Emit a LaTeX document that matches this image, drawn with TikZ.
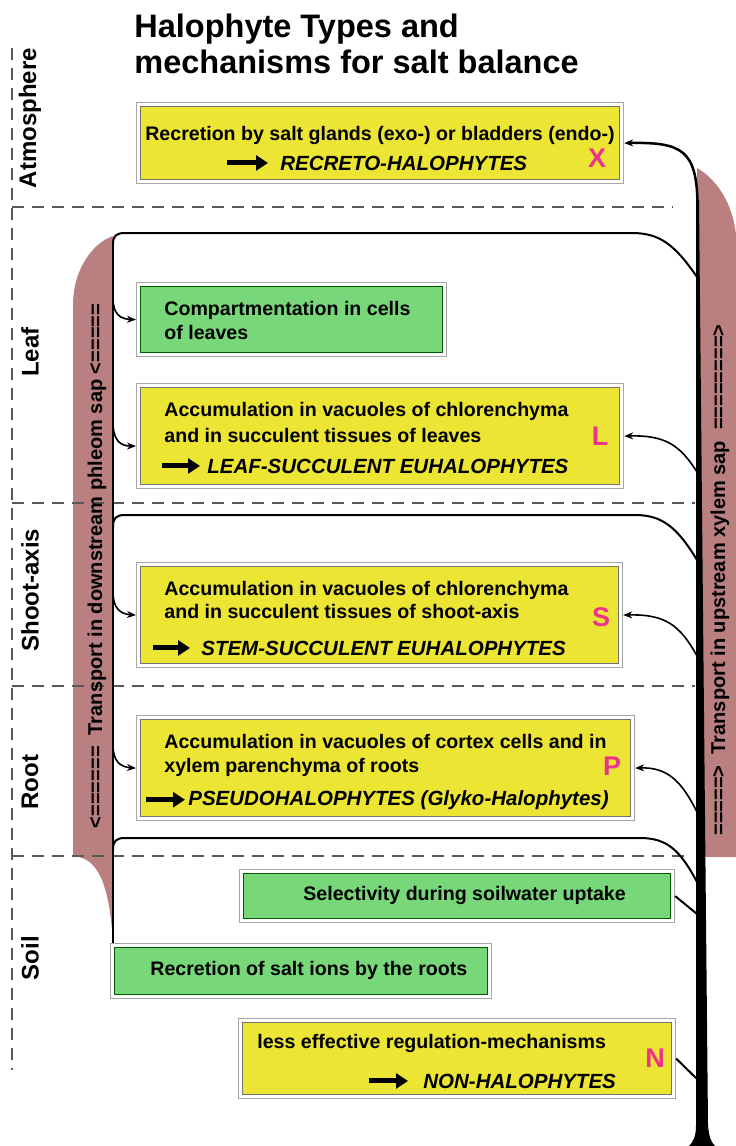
\documentclass[tikz,border=0pt]{standalone}
\usepackage{fontspec}
\setmainfont{Liberation Sans}
\usetikzlibrary{arrows.meta,positioning,calc}

\definecolor{boxyellow}{RGB}{236,229,52}
\definecolor{boxgreen}{RGB}{120,215,120}
\definecolor{sapbrown}{RGB}{186,127,127}
\definecolor{typepink}{RGB}{236,50,140}

\newcommand\bodyfont{\fontsize{19.6}{24}\selectfont\bfseries}
\newcommand\italfont{\fontsize{20.5}{24}\selectfont\bfseries\itshape}

\tikzset{every picture/.style={line width=0.75pt}}
\tikzset{
  boxbase/.style={rectangle, draw=black!35, line width=1.2pt, fill=white, inner sep=0pt, anchor=north west},
  ybox/.style={boxbase, path picture={\draw[fill=boxyellow, draw=black!55, line width=0.8pt]
      ([xshift=4pt,yshift=-4pt]path picture bounding box.north west) rectangle
      ([xshift=-4pt,yshift=4pt]path picture bounding box.south east);}},
  gbox/.style={boxbase, path picture={\draw[fill=boxgreen, draw=green!35!black, line width=1pt]
      ([xshift=4pt,yshift=-4pt]path picture bounding box.north west) rectangle
      ([xshift=-4pt,yshift=4pt]path picture bounding box.south east);}},
  title/.style={font=\fontsize{32.5}{38}\selectfont\bfseries, anchor=base west, inner sep=0pt},
  txt/.style={font=\bodyfont, anchor=base west, inner sep=0pt},
  itxt/.style={font=\italfont, anchor=base west, inner sep=0pt},
  typeletter/.style={font=\fontsize{27}{27}\selectfont\bfseries, text=typepink, anchor=base, inner sep=0pt},
  zone/.style={font=\fontsize{24}{25}\selectfont\bfseries, rotate=90, inner sep=0pt},
  saplabel/.style={font=\fontsize{20}{22}\selectfont\bfseries, rotate=90, inner sep=0pt},
  zoneline/.style={dash pattern=on 12pt off 8pt, draw=black!65, line width=1.3pt},
  sapline/.style={line width=2pt},
  twig/.style={line width=1.6pt, -{Stealth[length=9pt,width=7pt]}},
  fatarrow/.style={line width=5pt, -{Triangle[length=12pt,width=15pt]}},
}

\begin{document}
\begin{tikzpicture}[x=1pt, y=-1pt]
  \useasboundingbox (0,0) rectangle (736,1146);

  % sap bands
  \fill[sapbrown] (113,236) .. controls (95,242) and (74,266) .. (73,303) -- (73,856)
    .. controls (97,858) and (109,880) .. (113,943) -- cycle;
  \fill[sapbrown] (697,168) .. controls (718,180) and (733,205) .. (736,235) -- (736,857) -- (697,857) -- cycle;

  % zone borders
  \draw[zoneline] (12,48) -- (12,1070);
  \foreach \y/\xe in {207/673, 503/695, 686/695, 856/690}
    \draw[zoneline] (12,\y) -- (\xe,\y);

  % title
  \node[title] (title1) at (134,37) {Halophyte Types and};
  \node[title] (title2) at (134,73) {mechanisms for salt balance};

  % zones
  \node[zone] (atmo) at (30,118) {Atmosphere};
  \node[zone] (leaf) at (30,352) {Leaf};
  \node[zone] (shoot) at (30,590) {Shoot-axis};
  \node[zone] (root) at (30,782) {Root};
  \node[zone] (soil) at (30,958) {Soil};

  % sap labels
  \node[saplabel] (phloem) at (97,566) {<======\ \ Transport in downstream phleom sap <=====};
  \node[saplabel] (xylem) at (720,580) {=====>\ \ Transport in upstream xylem sap\ \ ========>};

  % boxes
  \node[ybox, minimum width=487pt, minimum height=81pt] (xbox) at (136,102) {};
  \node[gbox, minimum width=310pt, minimum height=74pt] (cbox) at (136,282) {};
  \node[ybox, minimum width=487pt, minimum height=105pt] (lbox) at (136,383) {};
  \node[ybox, minimum width=486pt, minimum height=105pt] (sbox) at (136,562) {};
  \node[ybox, minimum width=498pt, minimum height=105pt] (pbox) at (136,715) {};
  \node[gbox, minimum width=435pt, minimum height=53pt] (selbox) at (239,869) {};
  \node[gbox, minimum width=381pt, minimum height=55pt] (recbox) at (110,943) {};
  \node[ybox, minimum width=437pt, minimum height=80pt] (nbox) at (238,1018) {};

  % box texts
  \node[txt, anchor=base] (x1) at (380,140) {Recretion by salt glands (exo-) or bladders (endo-)};
  \node[itxt] (x2) at (280,170) {RECRETO-HALOPHYTES};
  \node[typeletter] (xlet) at (597,167) {X};

  \node[txt] (c1) at (164,315) {Compartmentation in cells};
  \node[txt] (c2) at (164,339) {of leaves};

  \node[txt] (l1) at (164,416) {Accumulation in vacuoles of chlorenchyma};
  \node[txt] (l2) at (164,442) {and in succulent tissues of leaves};
  \node[itxt] (l3) at (207,473) {LEAF-SUCCULENT EUHALOPHYTES};
  \node[typeletter] (llet) at (600,445) {L};

  \node[txt] (s1) at (164,595) {Accumulation in vacuoles of chlorenchyma};
  \node[txt] (s2) at (164,618) {and in succulent tissues of shoot-axis};
  \node[itxt] (s3) at (201,655) {STEM-SUCCULENT EUHALOPHYTES};
  \node[typeletter] (slet) at (601,626) {S};

  \node[txt] (p1) at (164,748) {Accumulation in vacuoles of cortex cells and in};
  \node[txt] (p2) at (164,772) {xylem parenchyma of roots};
  \node[itxt] (p3) at (188,805) {PSEUDOHALOPHYTES (Glyko-Halophytes)};
  \node[typeletter] (plet) at (612,775) {P};

  \node[txt] (sel) at (303,900) {Selectivity during soilwater uptake};
  \node[txt] (rec) at (150,975) {Recretion of salt ions by the roots};

  \node[txt] (n1) at (257,1048) {less effective regulation-mechanisms};
  \node[itxt] (n2) at (423,1088) {NON-HALOPHYTES};
  \node[typeletter] (nlet) at (655,1067) {N};

  % fat arrows
  \coordinate (xa) at (227,0 |- x2.west);
  \coordinate (la) at (162,0 |- l3.west);
  \coordinate (sa) at (153,0 |- s3.west);
  \coordinate (pa) at (146,0 |- p3.west);
  \coordinate (na) at (369,0 |- n2.west);
  \draw[fatarrow, shorten >=12pt] (xa) -- (x2.west);
  \draw[fatarrow, shorten >=7pt] (la) -- (l3.west);
  \draw[fatarrow, shorten >=11pt] (sa) -- (s3.west);
  \draw[fatarrow, shorten >=3pt] (pa) -- (p3.west);
  \draw[fatarrow, shorten >=15pt] (na) -- (n2.west);

  % xylem trunk
  \fill (696,200) -- (699,200) -- (708,1125) .. controls (709,1137) and (711,1142) .. (715,1146)
    -- (689,1146) .. controls (693,1142) and (696,1137) .. (696,1125) -- cycle;
  \coordinate (xylTop) at (697.5,205);
  \draw[twig, line width=2.5pt] (xylTop) .. controls (697,150) and (682,142) .. (xbox.east);

  % phloem line and loops
  \coordinate (phTop) at (113,244);
  \coordinate (phShoot) at (113,527);
  \coordinate (phSoil) at (113,850);
  \coordinate (xylLeaf) at (697,277);
  \coordinate (xylShoot) at (697,560);
  \coordinate (xylSoil) at (697,882);
  \draw[sapline, line width=2.2pt] (phTop) -- (phTop |- recbox.north);
  \draw[sapline] (xylLeaf) .. controls (675,245) and (660,233) .. (632,233) -- (125,233)
    .. controls (116,233) and (113,236) .. (phTop);
  \draw[sapline] (xylShoot) .. controls (677,527) and (662,515) .. (635,515) -- (125,515)
    .. controls (116,515) and (113,518) .. (phShoot);
  \draw[sapline] (xylSoil) .. controls (680,850) and (667,838) .. (640,838) -- (125,838)
    .. controls (116,838) and (113,841) .. (phSoil);

  % from phloem into boxes
  \coordinate (phC) at (113,298);
  \coordinate (phL) at (113,422);
  \coordinate (phS) at (113,592);
  \coordinate (phP) at (113,745);
  \draw[twig] (phC) .. controls (113,314) and (120,319) .. (cbox.west);
  \draw[twig] (phL) .. controls (113,440) and (120,446) .. ([yshift=-10pt]lbox.west);
  \draw[twig] (phS) .. controls (113,608) and (120,614) .. (sbox.west);
  \draw[twig] (phP) .. controls (113,761) and (120,767) .. (pbox.west);

  % from xylem into boxes
  \coordinate (xyL) at (697,472);
  \coordinate (xyS) at (697,656);
  \coordinate (xyP) at (697,812);
  \coordinate (xySel) at (697,914);
  \coordinate (xyN) at (697,1079);
  \draw[twig] (xyL) .. controls (680,445) and (665,435) .. (lbox.east);
  \draw[twig] (xyS) .. controls (680,625) and (665,614) .. (sbox.east);
  \draw[twig] (xyP) .. controls (682,782) and (668,767) .. (pbox.east);
  \draw[sapline] (selbox.east) -- (xySel);
  \draw[sapline] (nbox.east) -- (xyN);
\end{tikzpicture}
\end{document}
